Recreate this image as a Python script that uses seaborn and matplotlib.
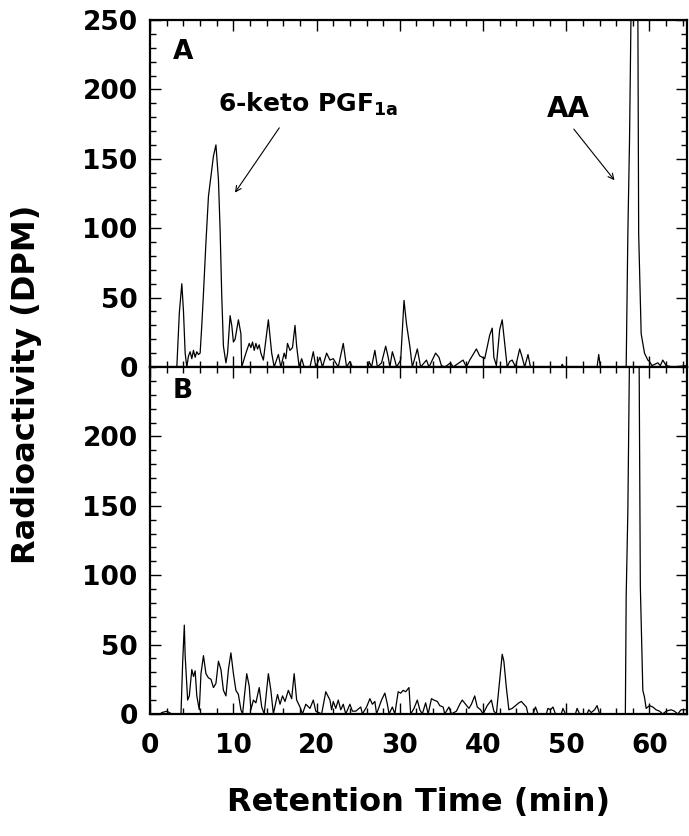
import pandas as pd
import matplotlib
matplotlib.use('Agg')
import matplotlib.pyplot as plt
from matplotlib.ticker import MultipleLocator
import seaborn as sns

# Panel A trace (retention time in min, radioactivity in DPM)
tiempo_a = [0.0, 3.2, 3.5, 3.8, 4.0, 4.2, 4.4, 4.6, 4.8, 5.0,
            5.2, 5.4, 5.6, 5.8, 6.0, 6.2, 6.4, 6.7, 7.0, 7.4,
            7.6, 7.9, 8.2, 8.4, 8.6, 8.8, 9.1, 9.3, 9.6, 9.8,
            10.0, 10.2, 10.6, 10.9, 11.0, 11.5, 11.9, 12.1, 12.3, 12.5,
            12.7, 12.9, 13.1, 13.3, 13.6, 14.2, 14.6, 14.9, 15.4, 15.7,
            16.1, 16.3, 16.5, 16.8, 17.1, 17.4, 17.6, 17.9, 18.2, 18.5,
            19.2, 19.6, 19.9, 20.4, 20.7, 21.2, 21.6, 22.0, 22.6, 23.2,
            23.6, 24.0, 24.3, 26.2, 26.3, 26.6, 27.0, 27.3, 27.8, 28.3,
            28.6, 28.8, 29.1, 29.4, 29.6, 30.1, 30.5, 30.8, 31.2, 31.5,
            32.1, 32.5, 33.2, 33.5, 34.3, 34.7, 35.0, 35.4, 36.1, 36.4,
            37.6, 38.0, 38.4, 39.2, 39.6, 40.2, 40.8, 41.1, 41.3, 41.6,
            42.0, 42.3, 42.6, 42.9, 43.2, 43.5, 43.9, 44.4, 44.7, 45.0,
            45.4, 45.7, 49.4, 49.5, 49.7, 53.7, 53.9, 54.1, 57.2, 57.4,
            57.6, 57.8, 58.2, 58.6, 58.7, 59.0, 59.4, 59.8, 60.0, 60.3,
            61.0, 61.3, 61.6, 62.0, 62.8, 64.4, 64.5]
dpm_a = [0, 0, 39, 60, 40, 10, 0, 8, 11, 6,
         12, 7, 11, 9, 10, 30, 53, 90, 123, 142,
         152, 160, 135, 99, 51, 15, 3, 10, 37, 30,
         18, 20, 34, 24, 0, 10, 17, 14, 18, 12,
         17, 13, 16, 10, 5, 34, 10, 0, 9, 0,
         10, 6, 17, 12, 14, 30, 15, 0, 6, 0,
         0, 11, 0, 7, 0, 10, 5, 6, 0, 17,
         0, 4, 0, 0, 4, 0, 12, 0, 3, 15,
         7, 0, 11, 5, 0, 5, 48, 31, 15, 0,
         13, 0, 5, 0, 10, 7, 1, 0, 3, 0,
         5, 0, 5, 13, 8, 6, 23, 28, 7, 1,
         27, 34, 17, 0, 4, 5, 0, 13, 7, 0,
         9, 0, 0, 2, 0, 0, 9, 0, 0, 96,
         163, 260, 1500, 260, 96, 24, 10, 5, 4, 1,
         3, 1, 5, 1, 0, 1, 0]

# Panel B trace
tiempo_b = [0.0, 1.2, 1.4, 2.0, 2.3, 2.6, 3.7, 3.9, 4.1, 4.2,
            4.5, 4.7, 5.0, 5.2, 5.4, 5.6, 5.9, 6.1, 6.4, 6.7,
            7.0, 7.3, 7.6, 7.9, 8.2, 8.5, 8.8, 9.1, 9.4, 9.7,
            10.0, 10.3, 10.6, 10.9, 11.1, 11.6, 11.9, 12.1, 12.4, 12.7,
            13.1, 13.4, 13.7, 14.2, 14.5, 14.8, 15.3, 15.6, 15.9, 16.2,
            16.6, 17.0, 17.3, 17.6, 18.0, 18.3, 18.7, 19.2, 19.6, 19.9,
            20.6, 21.1, 21.6, 21.8, 22.0, 22.3, 22.6, 22.9, 23.2, 23.5,
            24.0, 24.3, 24.7, 25.3, 25.5, 26.0, 26.4, 26.7, 27.0, 27.2,
            27.8, 28.2, 28.5, 28.7, 29.1, 29.4, 29.8, 30.1, 30.4, 30.7,
            31.1, 31.3, 31.7, 32.1, 32.4, 32.7, 33.1, 33.4, 33.8, 34.1,
            34.5, 34.8, 35.2, 35.4, 35.9, 36.2, 36.8, 37.2, 37.5, 37.9,
            38.3, 38.6, 39.0, 39.3, 39.7, 40.0, 40.5, 41.0, 41.3, 41.6,
            42.0, 42.3, 42.5, 42.8, 43.1, 43.5, 43.9, 44.3, 44.6, 44.9,
            45.2, 45.4, 46.0, 46.3, 46.6, 47.6, 47.8, 48.1, 48.4, 48.7,
            49.4, 49.6, 49.9, 51.1, 51.3, 51.6, 52.5, 52.7, 53.0, 53.4,
            53.7, 54.0, 57.1, 57.2, 57.4, 57.6, 58.2, 58.75, 58.9, 59.2,
            59.4, 59.6, 60.0, 60.4, 60.8, 61.2, 61.6, 62.0, 62.6, 63.0,
            63.4, 63.8, 64.4, 64.5]
dpm_b = [0, 0, 1, 2, 1, 0, 0, 37, 64, 42,
         10, 13, 32, 27, 31, 13, 3, 29, 42, 29,
         26, 25, 19, 22, 38, 32, 17, 13, 32, 44,
         29, 17, 14, 3, 0, 29, 20, 3, 10, 8,
         19, 5, 0, 29, 17, 0, 14, 7, 13, 9,
         17, 11, 29, 10, 5, 0, 7, 4, 10, 2,
         0, 16, 10, 3, 9, 4, 10, 3, 7, 0,
         7, 2, 2, 5, 0, 5, 11, 7, 9, 0,
         10, 15, 7, 0, 5, 0, 16, 15, 17, 16,
         19, 0, 4, 10, 3, 0, 8, 0, 11, 10,
         9, 6, 5, 0, 5, 0, 2, 7, 10, 7,
         4, 7, 13, 5, 3, 0, 6, 10, 2, 0,
         25, 43, 38, 19, 3, 4, 6, 8, 9, 7,
         5, 0, 0, 5, 0, 0, 4, 3, 5, 0,
         0, 4, 0, 0, 4, 0, 0, 3, 1, 3,
         6, 0, 0, 85, 146, 260, 1500, 260, 92, 17,
         12, 4, 6, 5, 3, 2, 0, 2, 3, 2,
         0, 3, 3, 2]

df_a = pd.DataFrame({'t': tiempo_a, 'dpm': dpm_a})
df_b = pd.DataFrame({'t': tiempo_b, 'dpm': dpm_b})

sns.set_style('ticks')
plt.rcParams['font.family'] = ['DejaVu Sans']
plt.rcParams['font.weight'] = 'bold'
plt.rcParams['axes.labelweight'] = 'bold'
plt.rcParams['mathtext.fontset'] = 'dejavusans'
plt.rcParams['mathtext.default'] = 'bf'
plt.rcParams['text.color'] = 'black'
plt.rcParams['axes.labelcolor'] = 'black'
plt.rcParams['xtick.color'] = 'black'
plt.rcParams['ytick.color'] = 'black'

fig, (ax1, ax2) = plt.subplots(2, 1, figsize=(6.89, 8.36), dpi=100, sharex=True)
fig.subplots_adjust(left=0.218, right=0.997, top=0.976, bottom=0.146, hspace=0)

for ax, df in [(ax1, df_a), (ax2, df_b)]:
    sns.lineplot(data=df, x='t', y='dpm', ax=ax, color='black', lw=0.9,
                 estimator=None, sort=False)
    ax.set_xlim(0, 64.5)
    ax.set_ylim(0, 250)
    ax.xaxis.set_major_locator(MultipleLocator(10))
    ax.xaxis.set_minor_locator(MultipleLocator(2))
    ax.yaxis.set_minor_locator(MultipleLocator(10))
    ax.tick_params(which='both', direction='in', top=True, right=True,
                   width=1.0, color='black')
    ax.tick_params(which='major', length=8, labelsize=19, pad=9)
    ax.tick_params(which='minor', length=4)
    ax.tick_params(axis='x', pad=14)
    for s in ax.spines.values():
        s.set_linewidth(1.6)
        s.set_color('black')
    ax.set_xlabel('')
    ax.set_ylabel('')

ax1.set_yticks([0, 50, 100, 150, 200, 250])
ax2.set_yticks([0, 50, 100, 150, 200])

ax1.text(3.9, 227, 'A', fontsize=19, fontweight='bold', ha='center', va='center')
ax2.text(3.9, 233, 'B', fontsize=19, fontweight='bold', ha='center', va='center')

ax1.text(19.0, 189, r'6-keto PGF$_{1a}$', fontsize=18, ha='center', va='center')
ax1.annotate('', xy=(10.0, 124), xytext=(15.7, 174),
             arrowprops=dict(arrowstyle='->', lw=0.8, color='black'))
ax1.text(50.2, 186, 'AA', fontsize=20, ha='center', va='center')
ax1.annotate('', xy=(56.0, 133), xytext=(50.7, 173),
             arrowprops=dict(arrowstyle='->', lw=0.8, color='black'))

fig.text(0.038, 0.54, 'Radioactivity (DPM)', rotation=90, fontsize=23,
         fontweight='bold', ha='center', va='center')
ax2.set_xlabel('Retention Time (min)', fontsize=23, labelpad=20)

fig.savefig('out.png', dpi=100)
